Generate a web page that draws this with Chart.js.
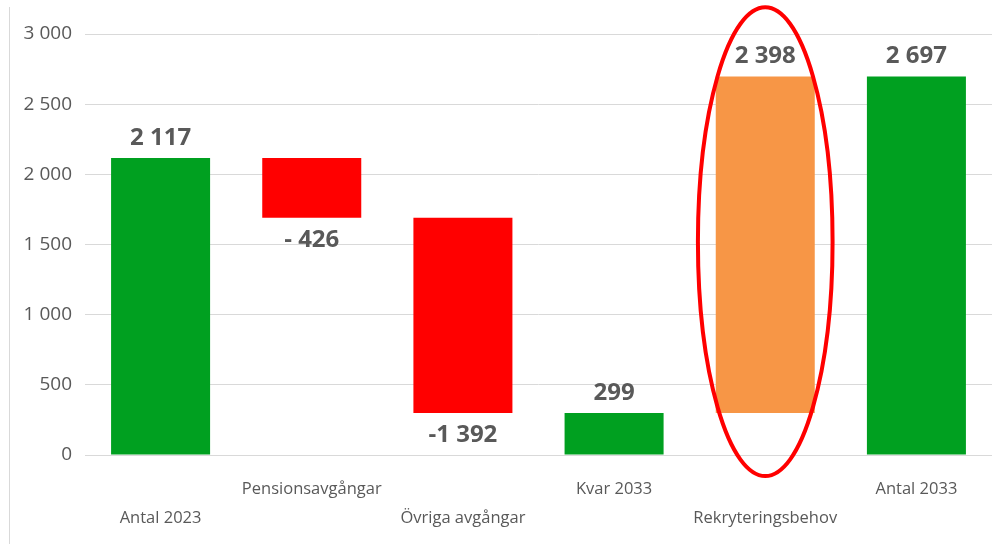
<!DOCTYPE html>
<html>
<head>
<meta charset="utf-8">
<script src="https://cdn.jsdelivr.net/npm/chart.js@4.4.1/dist/chart.umd.min.js"></script>
<style>
  html, body { margin: 0; padding: 0; background: #fff; }
  #wrap { position: relative; width: 992px; height: 544px; }
  #edge { position: absolute; left: 9px; top: 7px; bottom: 0; width: 1px; background: #d9d9d9; }
</style>
</head>
<body>
<div id="wrap">
  <div id="edge"></div>
  <canvas id="chart" width="992" height="544"></canvas>
</div>
<script>
// --- data ---
const categories = ["Antal 2023", "Pensionsavgångar", "Övriga avgångar", "Kvar 2033", "Rekryteringsbehov", "Antal 2033"];
const amounts    = [2117, -426, -1392, 299, 2398, 2697];
const kinds      = ["total", "delta", "delta", "total", "delta", "total"];
const valueLabels = ["2 117", "- 426", "-1 392", "299", "2 398", "2 697"];
const yTicks     = [0, 500, 1000, 1500, 2000, 2500, 3000];

// highlighted bar (red ring)
const highlightIndex = 4;
const highlightTop = 3190;
const highlightBottom = -150;

const COLORS = {
  total: "#00A020",
  down: "#FF0000",
  up: "#F79646",
  grid: "#d9d9d9",
  text: "#595959"
};

// floating ranges for the waterfall
let running = 0;
const ranges = amounts.map((v, i) => {
  if (kinds[i] === "total") { running = v; return [0, v]; }
  const start = running;
  running += v;
  return [Math.min(start, running), Math.max(start, running)];
});
const barColors = amounts.map((v, i) =>
  kinds[i] === "total" ? COLORS.total : (v < 0 ? COLORS.down : COLORS.up));

const fmtTick = v => String(v).replace(/\B(?=(\d{3})+(?!\d))/g, " ");

const valueLabelPlugin = {
  id: "valueLabels",
  afterDatasetsDraw(chart) {
    const ctx = chart.ctx;
    const meta = chart.getDatasetMeta(0);
    ctx.save();
    ctx.font = "bold 24px 'Open Sans'";
    ctx.fillStyle = COLORS.text;
    ctx.textAlign = "center";
    ctx.textBaseline = "middle";
    meta.data.forEach((el, i) => {
      const top = Math.min(el.y, el.base);
      const bottom = Math.max(el.y, el.base);
      const y = amounts[i] < 0 ? bottom + 22 : top - 20;
      ctx.fillText(valueLabels[i], el.x, y);
    });
    ctx.restore();
  }
};

const ringPlugin = {
  id: "ring",
  afterDraw(chart) {
    const ctx = chart.ctx;
    const el = chart.getDatasetMeta(0).data[highlightIndex];
    const ys = chart.scales.y;
    const yTop = ys.getPixelForValue(highlightTop);
    const yBot = ys.getPixelForValue(highlightBottom);
    const rx = el.width * 0.68;
    ctx.save();
    ctx.beginPath();
    ctx.ellipse(el.x, (yTop + yBot) / 2, rx, (yBot - yTop) / 2, 0, 0, Math.PI * 2);
    ctx.strokeStyle = "#FF0000";
    ctx.lineWidth = 4;
    ctx.stroke();
    ctx.restore();
  }
};

new Chart(document.getElementById("chart"), {
  type: "bar",
  data: {
    labels: categories,
    datasets: [{
      data: ranges,
      backgroundColor: barColors,
      borderWidth: 0,
      categoryPercentage: 1,
      barPercentage: 0.655
    }]
  },
  options: {
    responsive: false,
    animation: false,
    layout: { padding: { top: 34, right: 0, bottom: 0, left: 0 } },
    plugins: { legend: { display: false }, tooltip: { enabled: false } },
    scales: {
      x: {
        grid: { display: false, drawTicks: false },
        border: { color: COLORS.grid, width: 1 },
        ticks: {
          autoSkip: false,
          maxRotation: 0,
          padding: 20,
          color: COLORS.text,
          font: { family: "'Open Sans'", size: 16.5, lineHeight: 1.75 },
          callback: (v, i) => (i % 2 === 1 ? [categories[i], ""] : ["", categories[i]])
        },
        afterFit(scale) { scale.height = 89; }
      },
      y: {
        min: 0,
        max: 3000,
        afterBuildTicks(scale) { scale.ticks = yTicks.map(v => ({ value: v })); },
        grid: { color: COLORS.grid, lineWidth: 1, drawTicks: false },
        border: { display: false },
        ticks: {
          padding: 13,
          color: COLORS.text,
          font: { family: "'Open Sans'", size: 19 },
          callback: v => fmtTick(v)
        },
        afterFit(scale) { scale.width = 85; }
      }
    }
  },
  plugins: [valueLabelPlugin, ringPlugin]
});
</script>
</body>
</html>
